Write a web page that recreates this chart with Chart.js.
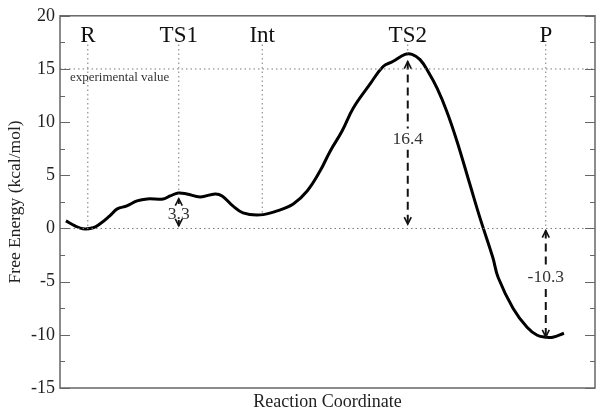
<!DOCTYPE html>
<html>
<head>
<meta charset="utf-8">
<script src="https://cdn.jsdelivr.net/npm/chart.js@4/dist/chart.umd.min.js"></script>
<style>
html,body{margin:0;padding:0;background:#fff;}
canvas{display:block;}
</style>
</head>
<body>
<canvas id="c" width="604" height="416"></canvas>
<script>
// Reaction coordinate (arbitrary units 0..10) and free energy (kcal/mol)
const reactionCoord = [0.11,0.28,0.43,0.62,0.75,0.93,1.07,1.25,1.44,1.63,1.93,2.06,2.21,2.37,2.62,2.90,3.03,3.23,3.42,3.74,4.06,4.36,4.62,4.86,5.05,5.27,5.48,5.79,6.04,6.22,6.45,6.58,6.73,6.88,7.05,7.23,7.42,7.66,7.85,8.09,8.19,8.47,8.73,8.92,9.10,9.21,9.42];
const freeEnergy   = [0.72,0.25,-0.03,0.07,0.44,1.19,1.84,2.12,2.59,2.78,2.78,3.06,3.34,3.25,2.97,3.25,3.06,2.12,1.47,1.28,1.66,2.31,3.53,5.40,7.27,9.14,11.30,13.54,15.23,15.70,16.38,16.38,15.88,14.76,13.17,11.01,8.21,4.18,1.00,-2.73,-4.61,-7.52,-9.29,-10.04,-10.23,-10.23,-9.85];

// States
const stateNames  = ['R','TS1','Int','TS2','P'];
const stateX      = [0.52, 2.22, 3.78, 6.50, 9.08];
const guideTop    = 17.3;
const guideBottom = [0, 3.3, 1.3, 16.4, 0];
const stateLabelY = 18.1;

// Reference lines
const experimentalValue = 15;
const experimentalLabel = 'experimental value';
const zeroLevel = 0;

// Energy differences (arrows): x, label, label y, upper segment, lower segment
const diffX      = [2.22, 6.50, 9.08];
const diffLabels = ['3.3', '16.4', '-10.3'];
const diffLabelY = [1.37, 8.4, -4.6];
const diffUpper  = [[2.8, 2.3], [15.7, 9.4], [-0.2, -3.5]];
const diffLower  = [[0.8, 0.25], [7.4, 0.4], [-5.7, -10.2]];

// Axis ticks
const yMin = -15, yMax = 20, yStep = 5, yMinorStep = 2.5;
const xMin = 0, xMax = 10;

const SERIF = "'Liberation Serif', 'DejaVu Serif', serif";
const guideColor = '#7a7a7a';

const datasets = [];
// horizontal dotted reference lines
[experimentalValue, zeroLevel].forEach(v => datasets.push({
  data: [{x: xMin, y: v}, {x: xMax, y: v}],
  borderColor: guideColor, borderWidth: 1, borderDash: [1.5, 3],
  pointRadius: 0, showLine: true, fill: false
}));
// vertical dotted guides
stateX.forEach((x, i) => datasets.push({
  data: [{x: x, y: guideTop}, {x: x, y: guideBottom[i]}],
  borderColor: guideColor, borderWidth: 1, borderDash: [1.5, 3],
  pointRadius: 0, showLine: true, fill: false
}));
// dashed arrow shafts
diffX.forEach((x, i) => {
  [diffUpper[i], diffLower[i]].forEach(seg => datasets.push({
    data: [{x: x, y: seg[0]}, {x: x, y: seg[1]}],
    borderColor: '#111', borderWidth: 2, borderDash: [8, 5],
    pointRadius: 0, showLine: true, fill: false
  }));
});
// free energy profile
datasets.push({
  data: reactionCoord.map((x, i) => ({x: x, y: freeEnergy[i]})),
  borderColor: '#000', borderWidth: 3, pointRadius: 0,
  showLine: true, fill: false, tension: 0.4
});

const decorPlugin = {
  id: 'decor',
  afterDatasetsDraw(chart) {
    const ctx = chart.ctx, xs = chart.scales.x, ys = chart.scales.y, a = chart.chartArea;
    ctx.save();
    // arrowheads (open V) at the arrow tips
    ctx.strokeStyle = '#111'; ctx.lineWidth = 1.6; ctx.setLineDash([]);
    function head(x, y, dir) { // dir -1 = pointing up, +1 = pointing down
      const px = xs.getPixelForValue(x), py = ys.getPixelForValue(y);
      ctx.beginPath();
      ctx.moveTo(px - 3.5, py - dir * 7);
      ctx.lineTo(px, py);
      ctx.lineTo(px + 3.5, py - dir * 7);
      ctx.stroke();
    }
    diffX.forEach((x, i) => {
      head(x, diffUpper[i][0], -1);
      head(x, diffLower[i][1], 1);
    });
    // state labels
    ctx.fillStyle = '#111';
    ctx.textAlign = 'center'; ctx.textBaseline = 'middle';
    ctx.font = '23px ' + SERIF;
    stateNames.forEach((n, i) => ctx.fillText(n, xs.getPixelForValue(stateX[i]), ys.getPixelForValue(stateLabelY)));
    // difference labels
    ctx.font = '17.5px ' + SERIF; ctx.fillStyle = '#333';
    diffLabels.forEach((t, i) => ctx.fillText(t, xs.getPixelForValue(diffX[i]), ys.getPixelForValue(diffLabelY[i])));
    // experimental value
    ctx.font = '13px ' + SERIF; ctx.fillStyle = '#333'; ctx.textAlign = 'left';
    ctx.fillText(experimentalLabel, a.left + 10, ys.getPixelForValue(experimentalValue - 0.8));
    // frame
    ctx.strokeStyle = '#666'; ctx.lineWidth = 1.5;
    ctx.strokeRect(a.left, a.top, a.right - a.left, a.bottom - a.top);
    // inward ticks left and right
    ctx.lineWidth = 1.2;
    for (let v = yMin; v <= yMax + 1e-9; v += yMinorStep) {
      const py = Math.round(ys.getPixelForValue(v)) + 0.5;
      const len = (Math.abs(v % yStep) < 1e-9) ? 10 : 5;
      ctx.beginPath();
      ctx.moveTo(a.left, py); ctx.lineTo(a.left + len, py);
      ctx.moveTo(a.right, py); ctx.lineTo(a.right - len, py);
      ctx.stroke();
    }
    ctx.restore();
  }
};

new Chart(document.getElementById('c'), {
  type: 'scatter',
  data: { datasets },
  options: {
    responsive: false, animation: false,
    layout: { padding: { top: 14, right: 9, left: 0, bottom: 0 } },
    plugins: { legend: { display: false }, tooltip: { enabled: false } },
    scales: {
      x: {
        type: 'linear', min: xMin, max: xMax,
        grid: { display: false, drawTicks: false },
        border: { display: false },
        ticks: { display: false },
        title: { display: true, text: 'Reaction Coordinate', color: '#222',
                 font: { family: SERIF, size: 18 }, padding: { top: 0, bottom: 3 } },
        afterFit(s) { s.height = 28; }
      },
      y: {
        min: yMin, max: yMax,
        grid: { display: false, drawTicks: false },
        border: { display: false },
        ticks: { stepSize: yStep, padding: 5, color: '#222', font: { family: SERIF, size: 18 } },
        title: { display: true, text: 'Free Energy (kcal/mol)', color: '#222',
                 font: { family: SERIF, size: 17.5 }, padding: { top: 5, bottom: 0 } },
        afterFit(s) { s.width = 60; }
      }
    }
  },
  plugins: [decorPlugin]
});
</script>
</body>
</html>
